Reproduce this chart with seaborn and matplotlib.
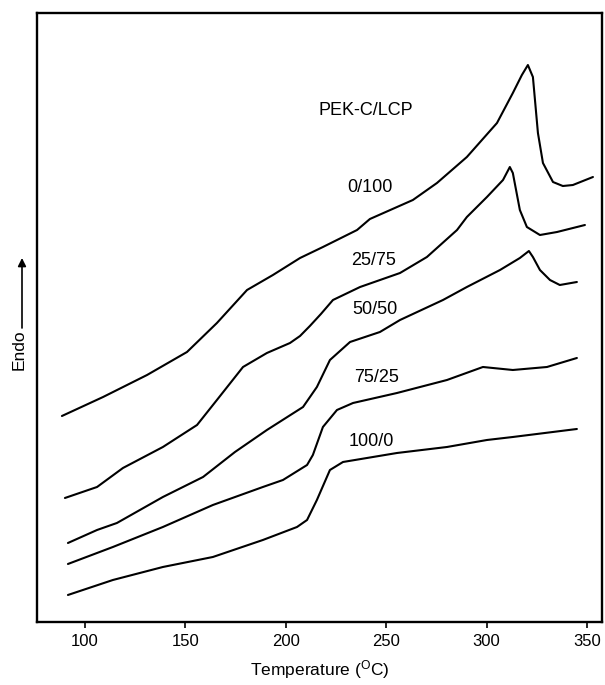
import numpy as np
import pandas as pd
import matplotlib
matplotlib.use("Agg")
import matplotlib.pyplot as plt
import seaborn as sns

# ---- data (temperature in °C, heat flow in arbitrary units, endo up) ----
t_0_100 = [88.5, 109.0, 130.9, 150.8, 165.7, 180.7, 193.6, 207.1, 218.5, 235.5, 241.9,
           263.3, 275.3, 290.2, 305.2, 313.1, 317.6, 320.6, 323.1, 325.6, 328.1, 333.1,
           338.0, 343.0, 353.0]
y_0_100 = [20.6, 22.5, 24.7, 27.0, 29.9, 33.2, 34.7, 36.4, 37.5, 39.2, 40.3,
           42.2, 43.9, 46.5, 49.9, 52.9, 54.7, 55.7, 54.5, 48.9, 45.9, 44.0,
           43.6, 43.7, 44.5]

t_25_75 = [90.0, 106.0, 118.9, 138.8, 155.8, 165.7, 178.7, 190.6, 202.1, 207.1, 212.0,
           217.5, 223.5, 237.0, 256.9, 270.3, 285.3, 290.2, 300.2, 308.2, 311.6, 313.1,
           316.6, 320.1, 326.6, 335.1, 349.0]
y_25_75 = [12.4, 13.5, 15.4, 17.5, 19.7, 22.2, 25.5, 26.9, 27.9, 28.6, 29.6,
           30.8, 32.2, 33.5, 34.9, 36.5, 39.2, 40.5, 42.5, 44.2, 45.5, 44.9,
           41.2, 39.5, 38.7, 39.0, 39.7]

t_50_50 = [91.5, 106.0, 115.9, 138.8, 158.8, 174.7, 190.6, 208.6, 215.5, 222.0, 232.0,
           246.9, 256.9, 278.3, 290.2, 306.7, 316.6, 321.1, 323.1, 326.6, 331.6, 336.5, 345.0]
y_50_50 = [7.9, 9.2, 9.9, 12.5, 14.5, 17.0, 19.2, 21.5, 23.5, 26.2, 28.0,
           29.0, 30.2, 32.2, 33.5, 35.2, 36.4, 37.1, 36.5, 35.2, 34.2, 33.7, 34.0]

t_75_25 = [91.5, 113.9, 138.8, 163.7, 188.6, 198.6, 210.6, 213.5, 218.5, 225.5, 233.5,
           255.4, 280.3, 298.2, 313.1, 330.1, 345.0]
y_75_25 = [5.8, 7.5, 9.5, 11.7, 13.5, 14.2, 15.7, 16.7, 19.5, 21.2, 21.9,
           22.9, 24.2, 25.5, 25.2, 25.5, 26.4]

t_100_0 = [91.5, 113.9, 138.8, 163.7, 188.6, 205.6, 210.6, 215.5, 222.0, 228.5,
           255.4, 280.3, 300.2, 313.1, 345.0]
y_100_0 = [2.7, 4.2, 5.5, 6.5, 8.2, 9.5, 10.2, 12.2, 15.2, 16.0,
           16.9, 17.5, 18.2, 18.5, 19.3]

labels = ["0/100", "25/75", "50/50", "75/25", "100/0"]
label_t = [241.9, 243.9, 244.4, 245.4, 242.4]
label_y = [43.5, 36.2, 31.2, 24.4, 18.0]
x_ticks = [100, 150, 200, 250, 300, 350]

series = [(t_0_100, y_0_100), (t_25_75, y_25_75), (t_50_50, y_50_50),
          (t_75_25, y_75_25), (t_100_0, y_100_0)]
frames = []
for name, (t, y) in zip(labels, series):
    frames.append(pd.DataFrame({"T": t, "H": y, "ratio": name}))
df = pd.concat(frames, ignore_index=True)

# ---- styling ----
sns.set_theme(style="ticks")
plt.rcParams["font.family"] = ["Liberation Sans", "DejaVu Sans"]
plt.rcParams["mathtext.fontset"] = "custom"
plt.rcParams["mathtext.rm"] = "Liberation Sans"
plt.rcParams["mathtext.it"] = "Liberation Sans"
plt.rcParams["text.color"] = "black"
plt.rcParams["axes.labelcolor"] = "black"
plt.rcParams["xtick.color"] = "black"
plt.rcParams["ytick.color"] = "black"

fig = plt.figure(figsize=(6.05, 6.85), dpi=100)
ax = fig.add_axes([0.0612, 0.092, 0.9338, 0.889])

for name in labels:
    sub = df[df["ratio"] == name]
    sns.lineplot(data=sub, x="T", y="H", color="black", linewidth=1.5,
                 sort=False, ax=ax, legend=False)
for line in ax.lines:
    line.set_solid_joinstyle("round")
    line.set_solid_capstyle("round")

ax.set_xlim(76.1, 357.5)
ax.set_ylim(0, 60.9)
ax.set_xticks(x_ticks)
ax.set_xticklabels([str(v) for v in x_ticks], fontsize=12)
ax.set_yticks([])
ax.tick_params(axis="x", direction="out", length=4, width=1.2, pad=5, colors="black")
for s in ax.spines.values():
    s.set_linewidth(1.7)
    s.set_color("black")
    s.set_visible(True)

ax.set_xlabel("Temperature ($^{\\mathrm{O}}$C)", fontsize=12.5, labelpad=6)
ax.set_ylabel("")

ax.text(240.0, 51.2, "PEK-C/LCP", fontsize=13, ha="center", va="center")
for lab, tx, ty in zip(labels, label_t, label_y):
    ax.text(tx, ty, lab, fontsize=13, ha="center", va="center")

# Endo arrow on the left, outside the axes
fig.text(19 / 605, 1 - 350 / 685, "Endo", rotation=90, fontsize=12.5,
         ha="center", va="center")
ax.annotate("", xy=(22 / 605, 1 - 258 / 685), xytext=(22 / 605, 1 - 328 / 685),
            xycoords="figure fraction", textcoords="figure fraction",
            arrowprops=dict(arrowstyle="-|>", color="black", lw=1.2,
                            mutation_scale=12, shrinkA=0, shrinkB=0))

fig.savefig("out.png", dpi=100, facecolor="white")
